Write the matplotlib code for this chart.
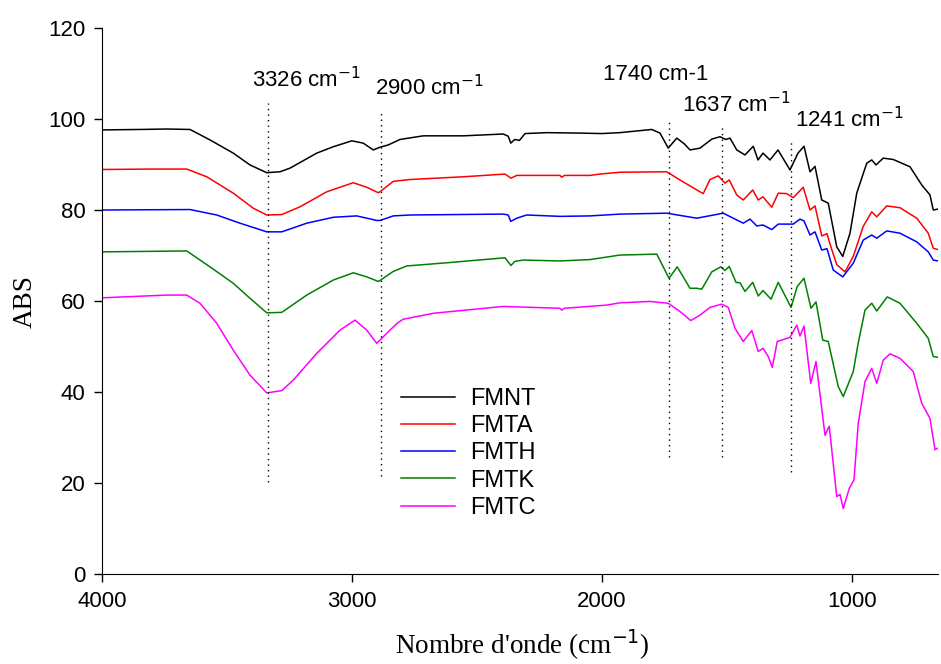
import matplotlib

matplotlib.use("Agg")
import matplotlib.pyplot as plt

wn_fmnt = [4000, 3850, 3741, 3648, 3568, 3475, 3408, 3341, 3288, 3248, 3141, 3075, 3001, 2955,
           2915, 2888, 2855, 2808, 2715, 2555, 2395, 2375, 2365, 2349, 2330, 2308, 2221, 2088,
           2001, 1928, 1801, 1768, 1735, 1701, 1670, 1648, 1608, 1560, 1528, 1505, 1488, 1461,
           1428, 1395, 1376, 1356, 1328, 1296, 1248, 1216, 1192, 1168, 1148, 1121, 1095, 1061,
           1037, 1008, 981, 941, 921, 904, 875, 835, 768, 721, 688, 675, 656]
abs_fmnt = [97.6, 97.7, 97.8, 97.7, 95.4, 92.5, 89.9, 88.2, 88.4, 89.2, 92.5, 93.9, 95.2, 94.7,
            93.2, 93.8, 94.3, 95.5, 96.3, 96.3, 96.7, 96.2, 94.7, 95.5, 95.3, 96.8, 97.0, 96.9,
            96.8, 97.0, 97.7, 96.9, 93.6, 95.8, 94.5, 93.2, 93.6, 95.6, 96.1, 95.5, 95.8, 93.2,
            92.1, 94.0, 91.0, 92.5, 91.0, 93.2, 88.8, 92.5, 94.0, 88.4, 89.6, 82.2, 81.5, 71.9,
            69.8, 74.9, 83.7, 90.3, 91.0, 89.9, 91.4, 91.1, 89.5, 85.5, 83.3, 80.0, 80.2]

wn_fmta = [4000, 3800, 3661, 3581, 3475, 3395, 3341, 3281, 3208, 3101, 2995, 2941, 2895, 2888,
           2835, 2768, 2555, 2388, 2364, 2341, 2168, 2161, 2150, 2048, 2008, 1928, 1741, 1688,
           1648, 1608, 1595, 1568, 1535, 1508, 1491, 1461, 1435, 1397, 1375, 1356, 1321, 1295,
           1261, 1235, 1195, 1168, 1148, 1121, 1100, 1085, 1061, 1028, 995, 955, 921, 901, 861,
           808, 741, 695, 675, 656]
abs_fmta = [88.9, 89.0, 89.0, 87.3, 83.7, 80.4, 78.9, 79.0, 80.7, 84.0, 86.0, 85.0, 83.8, 84.0,
            86.3, 86.7, 87.3, 87.9, 87.0, 87.6, 87.6, 87.2, 87.6, 87.6, 87.9, 88.3, 88.4, 86.6,
            85.3, 84.0, 83.6, 86.7, 87.5, 85.9, 86.6, 83.3, 82.2, 84.4, 82.2, 82.9, 80.6, 83.7,
            83.6, 82.7, 85.0, 80.0, 80.9, 74.3, 74.8, 72.0, 68.0, 66.4, 69.8, 76.4, 79.6, 78.5, 80.9,
            80.5, 78.2, 74.9, 71.6, 71.3]

wn_fmth = [4000, 3648, 3541, 3448, 3341, 3281, 3181, 3075, 2981, 2901, 2888, 2835, 2768, 2395,
           2375, 2365, 2341, 2301, 2168, 2048, 1928, 1741, 1621, 1515, 1435, 1408, 1381, 1356,
           1321, 1295, 1235, 1208, 1192, 1168, 1148, 1121, 1100, 1075, 1037, 995, 955, 921, 901,
           861, 808, 741, 695, 675, 656]
abs_fmth = [80.0, 80.1, 78.9, 77.1, 75.2, 75.2, 77.1, 78.4, 78.7, 77.7, 77.7, 78.7, 78.9, 79.1,
            78.9, 77.5, 78.2, 78.9, 78.6, 78.7, 79.1, 79.3, 78.2, 79.3, 77.1, 78.0, 76.5, 76.7,
            75.7, 76.9, 76.9, 78.0, 77.6, 74.5, 75.2, 71.2, 71.5, 66.8, 65.3, 68.3, 73.4, 74.5, 73.8,
            75.4, 74.9, 73.0, 70.8, 69.0, 68.8]

wn_fmtk = [4000, 3661, 3568, 3475, 3408, 3341, 3281, 3181, 3075, 2995, 2941, 2895, 2888, 2835,
           2781, 2621, 2388, 2364, 2349, 2315, 2168, 2048, 1928, 1781, 1755, 1732, 1699, 1648,
           1621, 1601, 1561, 1525, 1508, 1491, 1464, 1448, 1428, 1397, 1375, 1356, 1324, 1295,
           1244, 1219, 1192, 1164, 1144, 1117, 1095, 1055, 1035, 995, 975, 948, 921, 901, 859,
           808, 741, 695, 675, 656]
abs_fmtk = [70.8, 71.0, 67.5, 63.9, 60.6, 57.4, 57.5, 61.3, 64.6, 66.2, 65.3, 64.3, 64.5, 66.5,
            67.7, 68.4, 69.5, 67.8, 68.7, 69.0, 68.8, 69.1, 70.1, 70.3, 67.5, 65.0, 67.5, 62.8,
            62.8, 62.6, 66.4, 67.5, 66.7, 67.6, 64.1, 64.0, 62.1, 64.1, 61.1, 62.3, 60.4, 64.1,
            58.6, 63.2, 65.0, 58.4, 59.8, 51.4, 51.1, 41.2, 39.0, 44.5, 50.8, 58.0, 59.5, 57.8, 60.9,
            59.5, 55.1, 51.8, 47.8, 47.6]

wn_fmtc = [4000, 3741, 3661, 3608, 3541, 3475, 3408, 3341, 3281, 3235, 3141, 3048, 2988, 2941,
           2901, 2848, 2815, 2795, 2675, 2395, 2168, 2161, 2150, 1981, 1928, 1808, 1735, 1688,
           1645, 1608, 1568, 1521, 1495, 1468, 1435, 1401, 1375, 1356, 1335, 1319, 1299, 1248,
           1221, 1208, 1192, 1165, 1144, 1108, 1091, 1061, 1048, 1035, 1011, 992, 975, 948, 921,
           901, 875, 848, 808, 755, 721, 688, 668, 656]
abs_fmtc = [60.7, 61.3, 61.3, 59.5, 55.1, 49.2, 43.7, 39.8, 40.3, 42.6, 48.5, 53.6, 55.8, 53.6,
            50.7, 53.6, 55.3, 56.0, 57.3, 58.8, 58.4, 58.0, 58.4, 59.1, 59.6, 59.9, 59.5, 57.7,
            55.7, 56.9, 58.6, 59.3, 58.6, 54.0, 51.1, 53.5, 48.9, 49.6, 47.8, 45.4, 51.1, 52.0,
            54.7, 52.3, 54.5, 41.9, 46.7, 30.5, 32.5, 17.0, 17.5, 14.4, 18.8, 20.7, 33.1, 42.3, 45.2,
            41.9, 47.0, 48.4, 47.4, 44.5, 37.5, 34.2, 27.3, 27.7]

labels = ["FMNT", "FMTA", "FMTH", "FMTK", "FMTC"]
colors = ["black", "red", "blue", "green", "magenta"]

# bandes repérées : position du trait, haut, bas, texte, position du texte
band_x = [3335, 2884, 1732, 1521, 1245]
band_top = [103.5, 101.5, 99.8, 98.7, 95.4]
band_bottom = [20.2, 21.5, 25.7, 25.8, 22.5]
band_txt = ["3326 cm$^{-1}$", "2900 cm$^{-1}$", "1740 cm-1", "1637 cm$^{-1}$", "1241 cm$^{-1}$"]
band_txt_x = [3400, 2908, 1996, 1680, 1228]
band_txt_y = [108.6, 106.8, 109.7, 103.1, 99.8]

fig = plt.figure(figsize=(9.41, 6.64), dpi=100)
ax = fig.add_axes([102 / 941, 90 / 664, 836 / 941, 546 / 664])

series = [(wn_fmnt, abs_fmnt), (wn_fmta, abs_fmta), (wn_fmth, abs_fmth),
          (wn_fmtk, abs_fmtk), (wn_fmtc, abs_fmtc)]
for (x, y), lab, c in zip(series, labels, colors):
    ax.plot(x, y, color=c, lw=1.1, label=lab)

for bx, t, b in zip(band_x, band_top, band_bottom):
    ax.plot([bx, bx], [b, t], color="black", lw=1.0, ls=(0, (1, 3)))
for s, tx, ty in zip(band_txt, band_txt_x, band_txt_y):
    ax.text(tx, ty, s, ha="left", va="center", fontsize=16, family="Liberation Sans")

ax.set_xlim(4000, 656)
ax.set_ylim(0, 120)
ax.set_xticks([4000, 3000, 2000, 1000])
ax.set_yticks(range(0, 121, 20))
ax.spines["top"].set_visible(False)
ax.spines["right"].set_visible(False)
ax.tick_params(direction="out", length=6, width=1, labelsize=16, pad=6)
for lbl in ax.get_xticklabels() + ax.get_yticklabels():
    lbl.set_family("Liberation Sans")

fig.text(522 / 941, 1 - 654 / 664, "Nombre d'onde (cm$^{-1}$)", ha="center", va="baseline",
         fontsize=19.5, family="Liberation Serif")
fig.text(25 / 941, 1 - 302 / 664, "ABS", ha="center", va="center", rotation=90,
         fontsize=19.5, family="Liberation Serif")

leg = ax.legend(loc="upper left", bbox_to_anchor=(401 / 941, 1 - 388 / 664),
                bbox_transform=fig.transFigure, frameon=False, borderpad=0,
                borderaxespad=0, handlelength=2.3, handletextpad=0.64,
                labelspacing=0.22, prop={"family": "Liberation Sans", "size": 17})

fig.savefig("out.png", dpi=100)
